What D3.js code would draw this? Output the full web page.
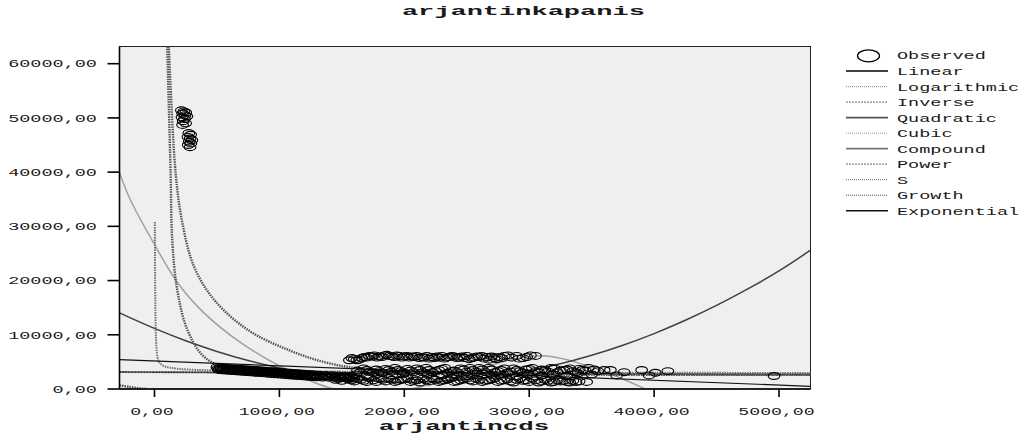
<!DOCTYPE html>
<html><head><meta charset="utf-8">
<script src="https://cdn.jsdelivr.net/npm/d3@7"></script>
<style>body{margin:0;background:#fff}svg{display:block}</style>
</head><body>
<svg id="chart" width="1031" height="435"></svg>
<script>
const chartTitle = "arjantinkapanis";
const xTitle = "arjantincds";
const xTickValues = [0, 1000, 2000, 3000, 4000, 5000];
const yTickValues = [0, 10000, 20000, 30000, 40000, 50000, 60000];
const legendNames = ["Observed","Linear","Logarithmic","Inverse","Quadratic","Cubic","Compound","Power","S","Growth","Exponential"];

const observedHigh = [
 [215,51400],[235,51200],[250,51000],[225,50800],[245,50500],[260,50300],[220,50100],[240,49800],[230,49400],[250,49000],[225,48700],
 [275,47200],[290,46900],[268,46500],[285,46200],[300,45900],[278,45600],[292,45300],[270,45000],[285,44600]
];
const observedBand = [
 [500,4030],[514,3510],[528,3980],[542,3460],[556,3940],[570,3410],[584,3890],[598,3360],[612,3840],[626,3310],[640,3790],[654,3270],
 [668,3740],[682,3220],[696,3690],[710,3170],[724,3640],[738,3120],[752,3600],[766,3070],[780,3550],[794,3020],[808,3500],[822,2970],
 [836,3450],[850,2930],[864,3400],[878,2880],[892,3350],[906,2830],[920,3300],[934,2780],[948,3260],[962,2730],[976,3210],[990,2680],
 [1004,3160],[1018,2640],[1032,3110],[1046,2590],[1060,3060],[1074,2540],[1088,3020],[1102,2490],[1116,2970],[1130,2440],[1144,2920],
 [1158,2400],[1172,2870],[1186,2350],[1200,2820],[1214,2300],[1228,2770],[1242,2250],[1256,2730],[1270,2200],[1284,2680],[1298,2150],
 [1320,2620],[1345,2120],[1370,2580],[1395,2080],[1420,2540],[1445,2040],[1470,2500],[1495,2000],[1520,2460],[1545,1960],[1570,2420],[1595,1920]
];
const observedBandMid = [
 [507,3760],[521,3750],[535,3700],[549,3690],[563,3680],[577,3640],[591,3630],[605,3590],[619,3580],[633,3560],[647,3520],[661,3510],
 [675,3470],[689,3460],[703,3440],[717,3400],[731,3390],[745,3350],[759,3340],[773,3320],[787,3280],[801,3270],[815,3230],[829,3220],
 [843,3200],[857,3160],[871,3150],[885,3110],[899,3100],[913,3080],[927,3040],[941,3030],[955,2990],[969,2980],[983,2960],[997,2920],
 [1011,2910],[1025,2870],[1039,2860],[1053,2840],[1067,2800],[1081,2790],[1095,2750],[1109,2740],[1123,2720],[1137,2680],[1151,2670],
 [1165,2630],[1179,2620],[1193,2600],[1207,2560],[1221,2550],[1235,2510],[1249,2500],[1263,2480],[1277,2440],[1291,2430],[1310,2390],
 [1333,2380],[1358,2350],[1383,2310],[1408,2300],[1433,2270],[1458,2260],[1483,2220],[1508,2210],[1533,2180],[1558,2170],[1583,2130]
];
const observedUpper = [
 [1560,5300],[1600,5500],[1640,5400],[1680,5900],[1720,6100],[1760,6200],[1800,6000],[1840,6200],[1880,6100],[1920,5900],[1960,6100],
 [2000,6000],[2040,5800],[2080,5900],[2120,5700],[2160,5800],[2200,5600],[2240,5700],[2280,5800],[2320,5600],[2360,5900],[2400,6000],
 [2440,5800],[2480,5700],[2520,5500],[2560,5800],[2600,5900],[2640,5600],[2680,5400],[2720,5700],[2760,5900],[2800,6100],[2860,5800],
 [2920,5600],[2980,5900],[3050,6100],
 [1580,5700],[1620,5300],[1660,5700],[1700,5800],[1740,6000],[1780,5800],[1820,5900],[1860,6300],[1900,6000],[1940,6200],[1980,5800],
 [2020,6100],[2060,6000],[2100,6100],[2140,5900],[2180,6100],[2220,5900],[2260,6000],[2300,6100],[2340,5800],[2380,6100],[2420,5700],
 [2460,6000],[2500,6100],[2540,5700],[2580,6000],[2620,6100],[2660,5900],[2700,6000],[2740,5500],[2780,5700],[2830,6200],[2900,6100],
 [2950,5700],[3010,6200]
];
const observedMiddle = [
 [1650,3100],[1700,3500],[1750,3000],[1800,3300],[1850,3700],[1900,3200],[1950,3500],[2000,3000],[2050,3400],[2100,3800],[2150,3100],
 [2200,3500],[2250,3300],[2300,3700],[2350,3000],[2400,3400],[2450,3800],[2500,3200],[2550,3500],[2600,3900],[2650,3100],[2700,3600],
 [2750,3300],[2800,3800],[2850,3200],[2900,3500],[2950,3000],[3000,3700],[3050,3300],[3100,3600],[3150,3200],[3200,3800],[3250,3400],
 [3300,3600],[3350,3300],[3400,3700],[3450,3400],[3520,3600],[3600,3500],[3650,3500],[3760,3100],[3900,3500],[3960,2500],[4010,3000],[4110,3300],
 [1625,3400],[1675,3800],[1725,3200],[1775,3600],[1825,3000],[1875,3500],[1925,3900],[1975,3300],[2025,3700],[2075,3100],[2125,3500],
 [2175,3900],[2225,3100],[2275,3500],[2325,3900],[2375,3300],[2425,3100],[2475,3600],[2525,3900],[2575,3200],[2625,3600],[2675,3900],
 [2725,3100],[2775,3500],[2825,3000],[2875,3800],[2925,3300],[2975,3600],[3025,3900],[3075,3100],[3125,3500],[3175,3900],[3225,3100],
 [3275,3500],[3325,3800],[3375,3100],[3425,3500],[3475,3900],[3550,3300],
 [1700,2400],[1900,2600],[2100,2300],[2300,2500],[2500,2400],[2700,2600],[2900,2300],[3100,2500],[3300,2400],[3500,2700],[3700,2500],
 [1610,2700],[1790,2800],[1990,2700],[2190,2800],[2390,2700],[2590,2800],[2790,2700],[2990,2800],[3190,2700],[3390,2900]
];
const observedLower = [
 [1450,1700],[1500,1500],[1550,1800],[1600,1400],[1650,1700],[1700,1300],[1750,1600],[1800,1900],[1850,1400],[1900,1700],[1950,1500],
 [2000,1800],[2050,1300],[2100,1600],[2150,1900],[2200,1400],[2250,1700],[2300,1500],[2350,1800],[2400,1300],[2450,1600],[2500,1900],
 [2550,1400],[2600,1700],[2650,1500],[2700,1800],[2750,1300],[2800,1600],[2850,1400],[2900,1700],[2950,1500],[3000,1300],[3050,1600],
 [3100,1400],[3150,1500],[3200,1300],[3250,1400],[3300,1300],[3350,1500],[3400,1400],[3460,1300],
 [1475,1900],[1525,2100],[1575,1600],[1625,1900],[1675,1500],[1725,2000],[1775,1300],[1825,1700],[1875,2000],[1925,1300],[1975,1700],
 [2025,2000],[2075,1500],[2125,1200],[2175,1600],[2225,2000],[2275,1300],[2325,1600],[2375,2000],[2425,1400],[2475,1800],[2525,1600],
 [2575,1900],[2625,1300],[2675,1600],[2725,2000],[2775,1500],[2825,1800],[2875,1200],[2925,1900],[2975,1600],[3025,1900],[3075,1200],
 [3125,1700],[3175,1200],[3225,1600],[3275,1500],[3325,1200],[3375,1300]
];
const observedOutlier = [[4960,2400]];

const linearFit = [[-280,5400],[5252,500]];
const logarithmicFit = [];
const inverseFit = [[3,30800],[6,18000],[10,11000],[16,7500],[25,5800],[40,4900],[70,4300],[130,3900],[260,3600],[600,3400],[1200,3250],[2500,3100],[4000,3000],[5252,2950]];
const quadraticFit = [[-280,14050],[0,11180],[250,8900],[500,6930],[750,5250],[1000,3860],[1250,2760],[1500,1970],[1750,1460],[2000,1260],[2250,1340],[2500,1730],[2750,2400],[3000,3380],[3250,4640],[3500,6210],[3750,8070],[4000,10220],[4250,12670],[4500,15410],[4750,18450],[5000,21780],[5252,25600]];
const cubicFit = [[-280,39900],[-193,34910],[-8,26980],[185,19600],[394,14090],[691,8540],[1013,4110],[1391,300],[1700,-600],[2000,-200],[2300,1400],[2600,3600],[2850,5400],[3050,6100],[3200,5900],[3450,4400],[3700,2300],[3930,0],[4100,-1800]];
const compoundFit = [[-280,3130],[1000,3000],[2500,2860],[4000,2730],[5252,2640]];
const powerFit = [[115,63200],[169,39900],[223,30670],[316,22610],[477,16470],[745,10940],[1067,7250],[1388,4800],[1736,3560],[2500,2900],[3500,2700],[5252,2650]];
const sFitNeg = [[-280,650],[-200,390],[-150,215],[-100,65],[-60,5]];
const sFitPos = [[102,63200],[129,39900],[142,27560],[182,18310],[263,10940],[394,6010],[611,3560],[932,3010],[2000,2800],[3500,2650],[5252,2600]];
const growthFit = [[-280,3130],[1000,3000],[2500,2860],[4000,2730],[5252,2640]];
const exponentialFit = [[-280,3130],[1000,3000],[2500,2860],[4000,2730],[5252,2640]];

const observed = [].concat(observedHigh, observedBand, observedBandMid, observedUpper, observedMiddle, observedLower, observedOutlier);

const svg = d3.select("#chart");
const plot = {left:119.5, right:810.5, top:46.5, bottom:389};
const x = d3.scaleLinear().domain([-280, 5252]).range([plot.left, plot.right]);
const y = d3.scaleLinear().domain([0, 63170]).range([plot.bottom, plot.top]);
const FONT = "'Liberation Mono', 'DejaVu Sans Mono', monospace";
const fmt = v => d3.format(".2f")(v).replace(".", ",");

function sText(sel, str, px, py, charW, size, weight, anchor) {
  const len = str.length * charW;
  let sx = px;
  if (anchor === "middle") sx = px - len/2;
  else if (anchor === "end") sx = px - len;
  return sel.append("text").attr("x", sx).attr("y", py)
    .attr("font-family", FONT).attr("font-size", size).attr("font-weight", weight || "normal")
    .attr("textLength", len).attr("lengthAdjust", "spacingAndGlyphs").attr("fill", "#1a1a1a").text(str);
}

svg.append("rect").attr("x", plot.left).attr("y", plot.top)
  .attr("width", plot.right - plot.left).attr("height", plot.bottom - plot.top)
  .attr("fill", "#efefef").attr("stroke", "#222").attr("stroke-width", 1);

svg.append("defs").append("clipPath").attr("id", "clip").append("rect")
  .attr("x", plot.left).attr("y", plot.top).attr("width", plot.right - plot.left).attr("height", plot.bottom - plot.top);

const gCurves = svg.append("g").attr("clip-path", "url(#clip)");
const line = d3.line().x(d => x(d[0])).y(d => y(d[1])).curve(d3.curveCatmullRom.alpha(0.5));

const styles = {
  Linear: {stroke:"#111", width:1.2, dash:null},
  Logarithmic: {stroke:"#8a8a8a", width:1.4, dash:"1,1"},
  Inverse: {stroke:"#707070", width:2, dash:"1.5,1"},
  Quadratic: {stroke:"#404040", width:1.5, dash:null},
  Cubic: {stroke:"#a0a0a0", width:1.5, dash:null},
  Compound: {stroke:"#888", width:1.8, dash:null},
  Power: {stroke:"#555", width:2.4, dash:"1.5,1"},
  S: {stroke:"#555", width:2.4, dash:"1.5,1"},
  Growth: {stroke:"#888", width:1.8, dash:"1,1"},
  Exponential: {stroke:"#222", width:1.4, dash:"2,1"}
};
const legendStyles = {
  Linear: {stroke:"#000", width:1.3, dash:null},
  Logarithmic: {stroke:"#999", width:1.2, dash:"1,1"},
  Inverse: {stroke:"#888", width:1.2, dash:"2,1"},
  Quadratic: {stroke:"#555", width:1.8, dash:null},
  Cubic: {stroke:"#aaa", width:1.2, dash:"1,1"},
  Compound: {stroke:"#777", width:1.8, dash:null},
  Power: {stroke:"#888", width:1.2, dash:"2,1"},
  S: {stroke:"#888", width:1.2, dash:"1,1"},
  Growth: {stroke:"#888", width:1.4, dash:"1,1"},
  Exponential: {stroke:"#111", width:1.6, dash:null}
};
function drawCurve(data, name) {
  if (!data.length) return;
  const s = styles[name];
  gCurves.append("path").datum(data).attr("d", line).attr("fill", "none")
    .attr("stroke", s.stroke).attr("stroke-width", s.width)
    .attr("stroke-dasharray", s.dash);
}
drawCurve(cubicFit, "Cubic");
drawCurve(quadraticFit, "Quadratic");
drawCurve(compoundFit, "Compound");
drawCurve(growthFit, "Growth");
drawCurve(exponentialFit, "Exponential");
drawCurve(inverseFit, "Inverse");
drawCurve(powerFit, "Power");
drawCurve(sFitNeg, "S");
drawCurve(sFitPos, "S");
drawCurve(logarithmicFit, "Logarithmic");
drawCurve(linearFit, "Linear");

svg.append("g").selectAll("ellipse").data(observed).join("ellipse")
  .attr("cx", d => x(d[0])).attr("cy", d => y(d[1]))
  .attr("rx", 5.8).attr("ry", 3.4)
  .attr("fill", "none").attr("stroke", "#000").attr("stroke-width", 1.15);

svg.append("line").attr("x1", plot.left).attr("x2", plot.left).attr("y1", plot.top).attr("y2", plot.bottom)
  .attr("stroke", "#000").attr("stroke-width", 1.6);
svg.append("line").attr("x1", plot.left).attr("x2", plot.right).attr("y1", plot.bottom).attr("y2", plot.bottom)
  .attr("stroke", "#000").attr("stroke-width", 1.6);

const gy = svg.append("g");
yTickValues.forEach(v => {
  gy.append("line").attr("x1", plot.left - 12).attr("x2", plot.left).attr("y1", y(v)).attr("y2", y(v))
    .attr("stroke", "#000").attr("stroke-width", 1.6);
  sText(gy, fmt(v), 97, y(v) + 3.8, 11.1, 10.5, "normal", "end");
});
const gx = svg.append("g");
xTickValues.forEach(v => {
  gx.append("line").attr("x1", x(v)).attr("x2", x(v)).attr("y1", plot.bottom).attr("y2", plot.bottom + 8)
    .attr("stroke", "#000").attr("stroke-width", 1.6);
  sText(gx, fmt(v), x(v) - 2.5, 415, 10.9, 10.5, "normal", "middle");
});

sText(svg, chartTitle, 523.4, 14.5, 16.2, 12, "bold", "middle");
sText(svg, xTitle, 464, 430, 15.5, 12, "bold", "middle");

const lg = svg.append("g");
legendNames.forEach((name, i) => {
  const base = 59.3 + i * 15.52 + (i > 0 ? 0.2 : 0);
  if (name === "Observed") {
    lg.append("ellipse").attr("cx", 868.5).attr("cy", base - 3.5).attr("rx", 11).attr("ry", 6)
      .attr("fill", "none").attr("stroke", "#000").attr("stroke-width", 1.3);
  } else {
    const s = legendStyles[name];
    lg.append("line").attr("x1", 846).attr("x2", 888).attr("y1", base - 4).attr("y2", base - 4)
      .attr("stroke", s.stroke).attr("stroke-width", s.width).attr("stroke-dasharray", s.dash);
  }
  sText(lg, name, 897, base, 11.1, 10, "normal", "start");
});
</script>
</body></html>
